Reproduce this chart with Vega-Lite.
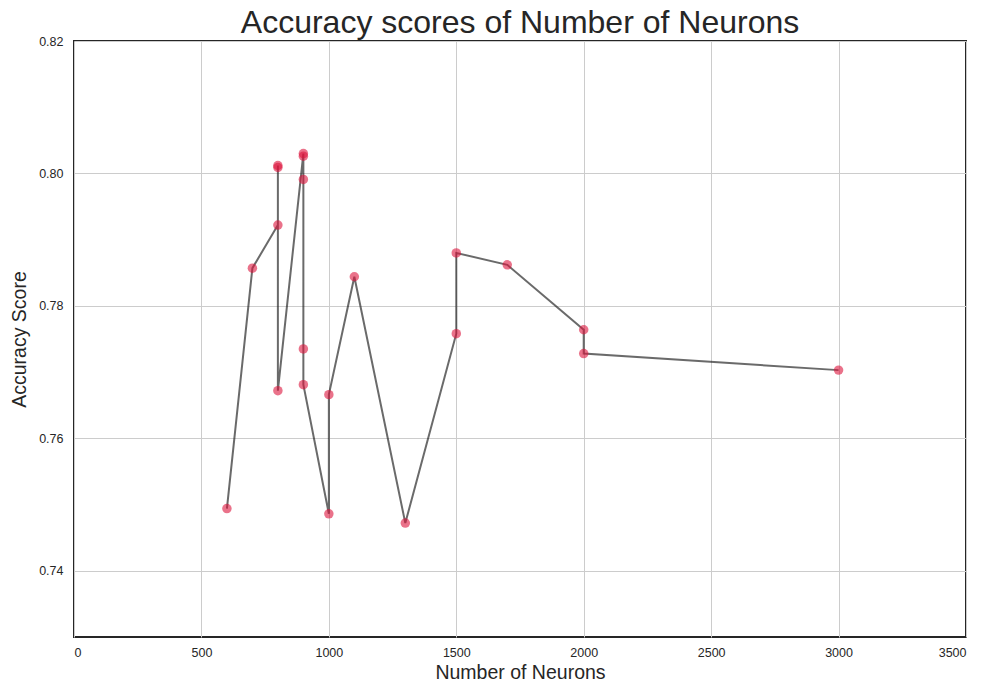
{
  "$schema": "https://vega.github.io/schema/vega-lite/v6.json",
  "autosize": "none",
  "width": 892,
  "height": 596,
  "padding": {"left": 74, "top": 41, "right": 19, "bottom": 48},
  "background": "white",
  "title": {"text": "Accuracy scores of Number of Neurons", "fontSize": 32, "font": "Liberation Sans", "fontWeight": "normal", "color": "#262626", "anchor": "middle", "offset": -5},
  "config": {
    "view": {"stroke": "#262626", "strokeWidth": 2},
    "axis": {"labelFont": "Liberation Sans", "titleFont": "Liberation Sans", "labelColor": "#262626", "titleColor": "#262626", "labelFontSize": 12.5, "titleFontSize": 19.5, "titleFontWeight": "normal", "gridColor": "#cccccc", "gridWidth": 1, "domain": false, "ticks": false}
  },
  "data": {"values": [
    {"step": 1, "neurons": 600, "accuracy": 0.7494},
    {"step": 2, "neurons": 700, "accuracy": 0.7857},
    {"step": 3, "neurons": 800, "accuracy": 0.7922},
    {"step": 4, "neurons": 800, "accuracy": 0.8009},
    {"step": 5, "neurons": 800, "accuracy": 0.8012},
    {"step": 6, "neurons": 800, "accuracy": 0.7672},
    {"step": 7, "neurons": 900, "accuracy": 0.8030},
    {"step": 8, "neurons": 900, "accuracy": 0.8026},
    {"step": 9, "neurons": 900, "accuracy": 0.7991},
    {"step": 10, "neurons": 900, "accuracy": 0.7735},
    {"step": 11, "neurons": 900, "accuracy": 0.7681},
    {"step": 12, "neurons": 1000, "accuracy": 0.7486},
    {"step": 13, "neurons": 1000, "accuracy": 0.7666},
    {"step": 14, "neurons": 1100, "accuracy": 0.7844},
    {"step": 15, "neurons": 1300, "accuracy": 0.7472},
    {"step": 16, "neurons": 1500, "accuracy": 0.7758},
    {"step": 17, "neurons": 1500, "accuracy": 0.7880},
    {"step": 18, "neurons": 1700, "accuracy": 0.7862},
    {"step": 19, "neurons": 2000, "accuracy": 0.7764},
    {"step": 20, "neurons": 2000, "accuracy": 0.7728},
    {"step": 21, "neurons": 3000, "accuracy": 0.7703}
  ]},
  "encoding": {
    "x": {"field": "neurons", "type": "quantitative", "scale": {"domain": [0, 3500], "nice": false, "zero": false}, "axis": {"title": "Number of Neurons", "values": [0, 500, 1000, 1500, 2000, 2500, 3000, 3500], "labelPadding": 9, "titlePadding": 5, "format": "d"}},
    "y": {"field": "accuracy", "type": "quantitative", "scale": {"domain": [0.73, 0.82], "nice": false, "zero": false}, "axis": {"title": "Accuracy Score", "values": [0.74, 0.76, 0.78, 0.80, 0.82], "format": ".2f", "labelPadding": 11, "titlePadding": 9}}
  },
  "layer": [
    {"mark": {"type": "line", "color": "#1a1a1a", "opacity": 0.65, "strokeWidth": 2}, "encoding": {"order": {"field": "step", "type": "quantitative"}}},
    {"mark": {"type": "circle", "color": "#dc143c", "opacity": 0.6, "size": 90}}
  ]
}
